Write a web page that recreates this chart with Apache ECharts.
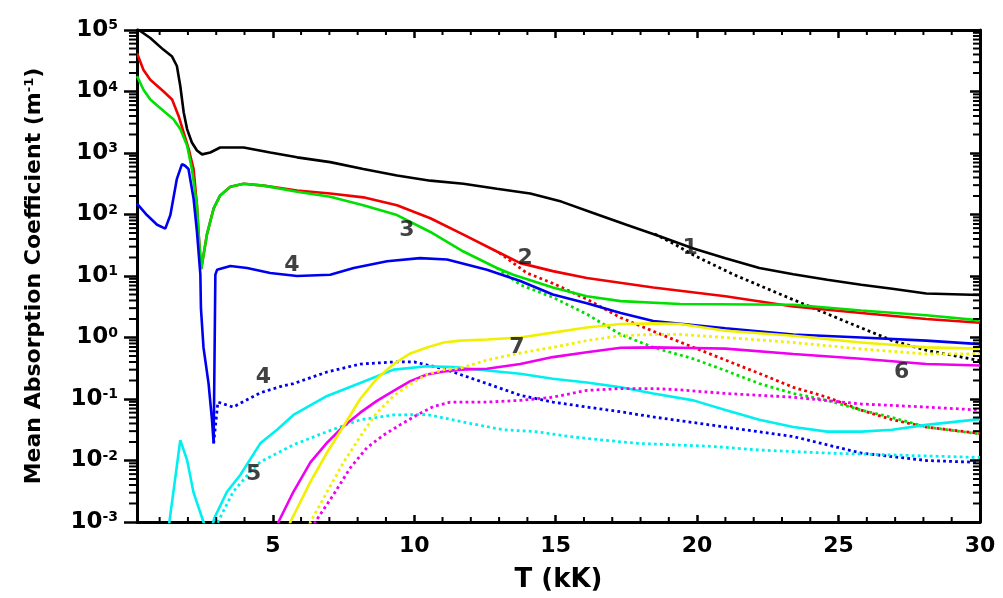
<!DOCTYPE html>
<html><head><meta charset="utf-8">
<script src="https://cdn.jsdelivr.net/npm/echarts@6/dist/echarts.min.js"></script>
<style>html,body{margin:0;padding:0;background:#fff}#c{width:1003px;height:598px}</style>
</head><body><div id="c"></div>
<script>
// ---- tick labels ----
const xTicks = [5, 10, 15, 20, 25, 30];
const xMin = 0.2, xMax = 30;
const yMin = 1e-3, yMax = 1e5;

// ---- series values: [T (kK), mean absorption coefficient (m^-1)] ----
const black = [[0.2,1.05e5],[0.67,74000],[1.13,48000],[1.44,37000],[1.61,26000],[1.73,12300],[1.85,4600],[1.97,2450],[2.14,1480],[2.32,1100],[2.5,950],[2.79,1020],[3.14,1230],[3.97,1230],[4.91,1020],[5.86,850],[7.03,710],[8.2,550],[9.39,430],[10.57,355],[11.74,316],[12.92,263],[14.1,219],[15.2,162],[16.3,107],[17.5,68],[18.7,44],[19.87,28],[21.0,19.5],[22.2,13.5],[23.4,10.7],[24.6,8.7],[25.8,7.2],[26.9,6.2],[28.1,5.2],[30,4.9]];
const blackDot = [[18.5,48],[19.2,33],[19.87,21.9],[21.3,10.5],[23.2,4.5],[25.2,1.86],[26.9,0.89],[28.1,0.62],[30,0.42]];
const red = [[0.2,42000],[0.43,22400],[0.67,15500],[1.14,10000],[1.44,7400],[1.67,4000],[1.85,2140],[2.03,1150],[2.2,550],[2.32,141],[2.38,47],[2.47,13],[2.67,47],[2.91,126],[3.14,204],[3.5,282],[3.97,316],[4.67,295],[5.86,245],[7.03,219],[8.2,190],[9.39,141],[10.57,87],[11.74,47],[12.92,25],[13.75,16.2],[14.9,12],[16.1,9.3],[18.45,6.5],[21.0,4.7],[23.4,3.2],[25.8,2.5],[28.1,2.0],[30,1.74]];
const redDot = [[13.0,24],[13.98,11.2],[14.9,7.6],[16.1,4.2],[17.3,2.1],[18.45,1.26],[19.87,0.69],[21.0,0.43],[22.2,0.26],[23.4,0.155],[24.6,0.107],[25.8,0.066],[26.9,0.046],[28.1,0.035],[30,0.0275]];
const green = [[0.2,17800],[0.43,10700],[0.67,7400],[1.14,4800],[1.49,3550],[1.73,2450],[1.97,1320],[2.14,550],[2.32,141],[2.38,47],[2.47,13],[2.67,47],[2.91,126],[3.14,204],[3.5,282],[3.97,316],[4.67,295],[5.86,234],[7.03,195],[8.2,141],[9.39,98],[10.57,52],[11.74,25],[12.92,13.5],[13.5,10.5],[14.9,6.5],[16.1,4.7],[17.3,3.9],[19.4,3.5],[23.4,3.4],[25.8,2.75],[28.1,2.3],[30,1.9]];
const greenDot = [[12.92,13.5],[13.75,7.2],[14.9,4.5],[16.1,2.4],[17.3,1.12],[18.45,0.69],[19.87,0.45],[21.0,0.29],[22.2,0.178],[23.4,0.123],[24.6,0.095],[25.8,0.066],[26.9,0.05],[28.1,0.035],[30,0.027]];
const blue = [[0.2,150],[0.55,98],[0.91,68],[1.2,59],[1.38,98],[1.61,380],[1.79,660],[1.9,620],[2.02,550],[2.2,182],[2.32,52],[2.44,10.5],[2.46,3.0],[2.5,3.0],[2.55,0.69],[2.73,0.178],[2.85,0.046],[2.91,0.019],[2.97,10.5],[3.03,12.6],[3.5,14.5],[4.09,13.5],[4.91,11.2],[5.86,10],[7.03,10.5],[7.86,13.5],[9.04,17.4],[10.2,19.5],[11.16,18.6],[12.57,12.6],[13.75,8.3],[14.9,5.0],[16.1,3.6],[17.3,2.5],[18.45,1.86],[21.0,1.41],[23.4,1.12],[25.8,1.0],[28.1,0.89],[30,0.78]];
const blueDot = [[2.91,0.019],[3.06,0.089],[3.6,0.074],[4.56,0.126],[5.38,0.165],[5.73,0.178],[6.92,0.275],[8.09,0.37],[9.27,0.40],[10.0,0.40],[11.04,0.31],[12.57,0.178],[13.75,0.115],[14.9,0.089],[16.1,0.074],[17.3,0.062],[18.45,0.051],[21.0,0.035],[23.4,0.0245],[25.8,0.0132],[28.1,0.010],[30,0.0093]];
const cyan = [[1.3,0.0007],[1.73,0.0214],[1.8,0.02],[1.97,0.0102],[2.2,0.003],[2.55,0.001],[2.7,0.0006],[2.85,0.0008],[2.93,0.00115],[3.38,0.0031],[3.85,0.0058],[4.56,0.019],[5.15,0.0316],[5.73,0.055],[6.92,0.112],[8.09,0.182],[9.27,0.30],[10.45,0.34],[11.4,0.33],[12.57,0.29],[13.75,0.257],[14.9,0.214],[16.1,0.186],[17.3,0.155],[18.45,0.123],[19.87,0.095],[21.0,0.066],[22.2,0.046],[23.4,0.035],[24.6,0.0295],[25.8,0.0295],[26.9,0.0316],[28.1,0.038],[30,0.047]];
const cyanDot = [[2.95,0.0008],[3.6,0.0031],[4.2,0.0065],[4.56,0.0095],[5.73,0.018],[6.92,0.0295],[8.09,0.046],[9.27,0.055],[10.45,0.056],[11.98,0.040],[13.15,0.0316],[14.3,0.0295],[15.5,0.0245],[16.7,0.0214],[17.9,0.019],[19.4,0.0178],[20.5,0.017],[22.2,0.0148],[24.6,0.0132],[26.9,0.0123],[30,0.0112]];
const magenta = [[5.1,0.0006],[5.2,0.001],[5.73,0.0031],[6.33,0.0093],[6.92,0.0195],[7.5,0.036],[8.09,0.060],[8.68,0.093],[9.27,0.135],[9.86,0.195],[10.45,0.25],[11.04,0.28],[11.63,0.30],[12.57,0.31],[13.75,0.37],[14.9,0.48],[16.1,0.575],[17.3,0.68],[18.45,0.69],[19.4,0.68],[21.0,0.66],[23.4,0.54],[25.8,0.45],[28.1,0.37],[30,0.35]];
const magentaDot = [[6.35,0.0006],[6.5,0.001],[7.15,0.0028],[7.74,0.0076],[8.33,0.0162],[8.92,0.026],[9.5,0.038],[10.1,0.055],[10.7,0.076],[11.27,0.089],[12.57,0.089],[13.75,0.095],[14.9,0.107],[16.1,0.138],[17.3,0.148],[18.45,0.148],[19.4,0.141],[21.0,0.123],[23.4,0.107],[25.8,0.083],[28.1,0.074],[30,0.066]];
const yellow = [[5.5,0.0006],[5.62,0.001],[6.33,0.0045],[6.92,0.0135],[7.5,0.036],[8.09,0.1],[8.68,0.214],[9.27,0.37],[9.86,0.55],[10.45,0.69],[11.04,0.83],[11.63,0.89],[12.57,0.93],[13.75,1.0],[14.9,1.2],[16.1,1.45],[17.3,1.66],[18.45,1.7],[19.4,1.66],[21.0,1.29],[23.4,1.07],[25.8,0.83],[28.1,0.69],[30,0.66]];
const yellowDot = [[6.2,0.0006],[6.33,0.001],[6.92,0.0031],[7.5,0.0093],[8.09,0.0245],[8.68,0.060],[9.27,0.112],[9.86,0.174],[10.45,0.25],[11.04,0.30],[11.63,0.316],[12.57,0.43],[13.75,0.56],[14.9,0.69],[16.1,0.89],[17.3,1.07],[18.45,1.12],[19.4,1.12],[21.0,1.0],[23.4,0.83],[25.8,0.65],[28.1,0.54],[30,0.54]];

// ---- curve number labels ----
const labelText = ['1', '2', '3', '4', '4', '5', '6', '7'];
const labelPos = [[19.75,28],[13.92,19.5],[9.74,56],[5.68,15],[4.67,0.226],[4.32,0.0059],[27.23,0.27],[13.63,0.69]];

// ---- build ----
const FONT = 'DejaVu Sans';
const curves = [
  ['1', black, '#000000', false], ['1 (dotted)', blackDot, '#000000', true],
  ['2', red, '#f00000', false], ['2 (dotted)', redDot, '#f00000', true],
  ['3', green, '#00e000', false], ['3 (dotted)', greenDot, '#00e000', true],
  ['4', blue, '#0000f0', false], ['4 (dotted)', blueDot, '#0000f0', true],
  ['5', cyan, '#00f0f0', false], ['5 (dotted)', cyanDot, '#00f0f0', true],
  ['6', magenta, '#f000f0', false], ['6 (dotted)', magentaDot, '#f000f0', true],
  ['7', yellow, '#f0f000', false], ['7 (dotted)', yellowDot, '#f0f000', true]
];

const xMinor = [];
for (let i = 1; i < xMax; i++) if (i % 5) xMinor.push(i);
const yMinor = [];
for (let e = -3; e < 5; e++) for (let k = 2; k < 10; k++) yMinor.push(k * Math.pow(10, e));

const series = curves.map(([name, data, color, dotted]) => ({
  name, type: 'line', data, showSymbol: false, symbol: 'none', smooth: false,
  animation: false, z: 3,
  lineStyle: { color, width: dotted ? 2.8 : 2.6, type: dotted ? [2.8, 3.2] : 'solid', cap: 'butt' }
}));

series.push({
  type: 'custom', silent: true, clip: false, animation: false, z: 5,
  data: xMinor.map(v => [v, 1]),
  renderItem: (params, api) => {
    const cs = params.coordSys;
    const px = api.coord([api.value(0), 1])[0];
    const top = cs.y, bot = cs.y + cs.height;
    const st = { stroke: '#000', lineWidth: 2 };
    return { type: 'group', children: [
      { type: 'line', shape: { x1: px, y1: bot, x2: px, y2: bot - 5 }, style: st },
      { type: 'line', shape: { x1: px, y1: top, x2: px, y2: top + 5 }, style: st }
    ]};
  }
});
series.push({
  type: 'custom', silent: true, clip: false, animation: false, z: 5,
  data: yMinor.map(v => [1, v]),
  renderItem: (params, api) => {
    const cs = params.coordSys;
    const py = api.coord([1, api.value(1)])[1];
    const l = cs.x, r = cs.x + cs.width;
    const st = { stroke: '#000', lineWidth: 2 };
    return { type: 'group', children: [
      { type: 'line', shape: { x1: l - 8, y1: py, x2: l, y2: py }, style: st },
      { type: 'line', shape: { x1: r - 7, y1: py, x2: r, y2: py }, style: st }
    ]};
  }
});
series.push({
  type: 'scatter', silent: true, animation: false, z: 6,
  symbol: 'circle', symbolSize: 1, itemStyle: { color: 'rgba(0,0,0,0)' },
  data: labelPos.map((p, i) => ({ value: p, name: labelText[i] })),
  label: { show: true, position: 'inside', formatter: '{b}', color: '#111',
    fontFamily: FONT, fontWeight: 'bold', fontSize: 22 }
});

const axisLineStyle = { show: true, onZero: false, lineStyle: { color: '#000', width: 3 } };
const supRich = {
  b: { fontFamily: FONT, fontWeight: 'bold', fontSize: 23, color: '#000' },
  s: { fontFamily: FONT, fontWeight: 'bold', fontSize: 14, color: '#000', verticalAlign: 'top' }
};

const option = {
  backgroundColor: '#fff',
  animation: false,
  grid: { left: 137, right: 23, top: 30, bottom: 72, containLabel: false },
  xAxis: [
    { type: 'value', position: 'bottom', min: xMin, max: xMax,
      name: 'T (kK)', nameLocation: 'middle', nameGap: 45,
      nameTextStyle: { fontFamily: FONT, fontWeight: 'bold', fontSize: 26, color: '#000' },
      axisLine: axisLineStyle,
      axisTick: { show: true, inside: true, length: 7, customValues: xTicks, lineStyle: { color: '#000', width: 2.5 } },
      axisLabel: { show: true, customValues: xTicks, margin: 13, fontFamily: FONT, fontWeight: 'bold', fontSize: 22, color: '#000' },
      splitLine: { show: false } },
    { type: 'value', position: 'top', min: xMin, max: xMax,
      axisLine: axisLineStyle,
      axisTick: { show: true, inside: true, length: 8, customValues: xTicks, lineStyle: { color: '#000', width: 2.5 } },
      axisLabel: { show: false }, splitLine: { show: false } }
  ],
  yAxis: [
    { type: 'log', logBase: 10, position: 'left', min: yMin, max: yMax,
      name: 'Mean Absorption Coefficient (m{s|-1})', nameLocation: 'middle', nameGap: 92,
      nameTextStyle: { fontFamily: FONT, fontWeight: 'bold', fontSize: 22, color: '#000',
        rich: { s: { fontFamily: FONT, fontWeight: 'bold', fontSize: 13, color: '#000', verticalAlign: 'top' } } },
      axisLine: axisLineStyle,
      axisTick: { show: true, inside: false, length: 13, lineStyle: { color: '#000', width: 2.5 } },
      axisLabel: { show: true, margin: 19,
        formatter: v => '{b|10}{s|' + Math.round(Math.log10(v)) + '}', rich: supRich },
      splitLine: { show: false } },
    { type: 'log', logBase: 10, position: 'right', min: yMin, max: yMax,
      axisLine: axisLineStyle,
      axisTick: { show: true, inside: true, length: 10, lineStyle: { color: '#000', width: 2.5 } },
      axisLabel: { show: false }, splitLine: { show: false } }
  ],
  series
};

const chart = echarts.init(document.getElementById('c'), null, { renderer: 'canvas' });
chart.setOption(option);
</script>
</body></html>
